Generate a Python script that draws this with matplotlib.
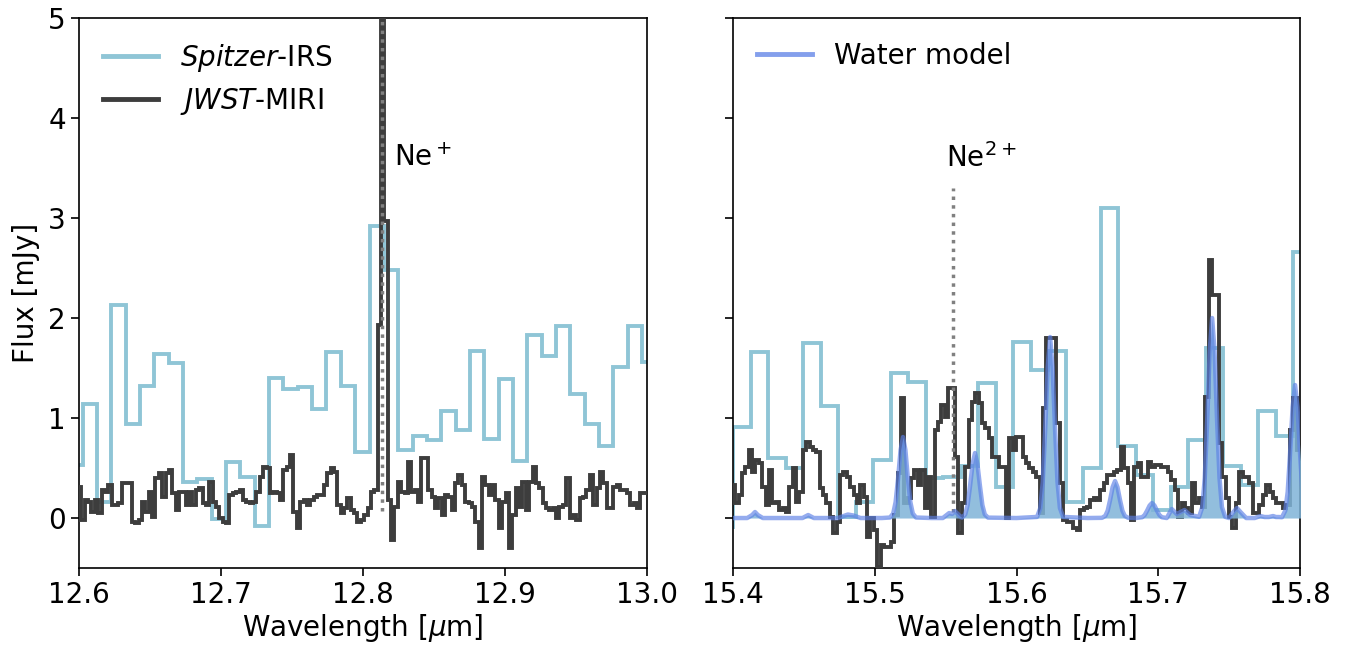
import numpy as np
import matplotlib
matplotlib.use("Agg")
import matplotlib.pyplot as plt
from matplotlib.lines import Line2D

# ---------------- data ----------------
# Spitzer-IRS (bin edges and fluxes, mJy)
spitzer_left_edges = np.linspace(12.5925, 13.0066, 42)
spitzer_left_flux = [0.53, 1.14, 0.16, 2.13, 0.94, 1.32, 1.64, 1.55, 0.36, 0.39,
                     -0.01, 0.56, 0.41, -0.08, 1.40, 1.29, 1.31, 1.09, 1.66, 1.32,
                     0.66, 2.92, 2.48, 0.68, 0.82, 0.78, 1.07, 0.88, 1.67, 0.79,
                     1.39, 0.57, 1.83, 1.62, 1.92, 1.24, 0.94, 0.72, 1.51, 1.92,
                     1.56]

spitzer_right_edges = np.linspace(15.3879, 15.8074, 35)
spitzer_right_flux = [-0.09, 0.91, 1.66, 0.60, 0.50, 1.75, 1.12, 0.01, 0.16, 0.58,
                      1.45, 1.36, 0.40, 0.41, 0.52, 1.35, 0.31, 1.76, 1.48, 1.67,
                      0.16, 0.50, 3.10, 0.72, 0.43, 0.08, 0.31, 0.78, 1.70, 0.52,
                      0.33, 1.07, 0.82, 2.66]

# JWST-MIRI (bin edges and fluxes, mJy)
jwst_left_edges = np.linspace(12.5993, 13.0, 170)
jwst_left_flux = [
    0.31, -0.02, 0.18, 0.16, 0.06, 0.18, 0.05, 0.28, 0.26, 0.33,
    0.13, 0.13, 0.15, 0.35, 0.35, 0.35, -0.04, -0.05, -0.02, 0.16,
    0.06, 0.26, 0.01, 0.40, 0.45, 0.21, 0.45, 0.48, 0.25, 0.08,
    0.26, 0.26, 0.13, 0.26, 0.13, 0.28, 0.30, 0.15, 0.13, 0.36,
    0.16, 0.11, 0.00, -0.04, -0.05, 0.23, 0.25, 0.26, 0.28, 0.18,
    0.16, 0.15, 0.16, 0.26, 0.41, 0.51, 0.50, 0.25,
    0.26, 0.25, 0.18, 0.48, 0.51, 0.63, 0.06, -0.10, 0.16, 0.18,
    0.13, 0.18, 0.21, 0.23, 0.23, 0.33, 0.45, 0.50, 0.46,
    0.13, 0.05, 0.10, 0.20, 0.08, 0.05, -0.04, -0.02, 0.03, 0.10,
    0.26, 0.28, 1.93, 8.0, 2.97, 0.18, -0.22, 0.11, 0.36, 0.26,
    0.25, 0.56, 0.26, 0.28, 0.16, 0.60, 0.60, 0.28, 0.21, 0.10,
    0.20, 0.03, 0.23, 0.21, 0.08,
    0.35, 0.43, 0.33, 0.16, 0.15, 0.11, -0.04, -0.30, 0.41, 0.33,
    0.23, 0.33, 0.18, -0.10, 0.16, 0.25, -0.30, 0.03, 0.30, 0.11,
    0.36, 0.08, 0.36, 0.51, 0.35, 0.30, 0.15, 0.10, 0.08, 0.10,
    0.00, 0.11, 0.13, 0.40, 0.00, 0.03, -0.02, 0.20, 0.21, 0.28,
    0.43, 0.13, 0.30, 0.46, 0.35, 0.10, 0.10, 0.31, 0.33, 0.28,
    0.28, 0.25, 0.13, 0.15, 0.10, 0.25, 0.25]

jwst_right_edges = np.linspace(15.3991, 15.8, 169)
jwst_right_flux = [
    0.33, 0.15, 0.23, 0.45, 0.51, 0.68, 0.46, 0.58, 0.55, 0.31,
    0.13, 0.48, 0.15, 0.16, 0.08, 0.10, 0.06, 0.31, 0.50, 0.16,
    0.26, 0.68, 0.76, 0.71, 0.68, 0.66, 0.30, 0.23, 0.15, 0.01,
    -0.15, -0.04, 0.43, 0.46, 0.41, 0.31, 0.23, 0.15, 0.33, 0.21,
    -0.19, 0.00, -0.12, -0.49,
    -0.27, -0.29, -0.29, -0.24, 0.03, 0.45, 1.20, 0.15, 0.20, 0.40,
    0.48, 0.33, 0.48, 0.10, 0.41, 0.01, 0.88, 0.96, 1.13, 1.01,
    1.30, 1.30, 0.61, -0.15, 0.15, 0.51, 0.98, 1.16, 1.25, 1.15,
    0.95, 0.90, 0.80, 0.61, 0.61, 0.51, 0.51, 0.00, 0.80, 0.68,
    0.81, 0.81,
    0.61, 0.55, 0.50, 0.46, 0.41, 0.05, 1.10, 1.80, 1.80, 1.80,
    0.95, 0.35, -0.02, -0.04, -0.04, -0.10, -0.12, 0.08, 0.10, 0.11,
    0.18, 0.20, 0.18, 0.28, 0.35, 0.43, 0.43, 0.46, 0.48, 0.71,
    0.50, 0.35, -0.02, 0.51, 0.55, 0.41, 0.41, 0.56, 0.51, 0.53,
    0.53, 0.51, 0.51, 0.46, 0.38, 0.28, 0.01, 0.15, 0.10, 0.05,
    0.35, 0.15, 0.20, 0.11, 1.21, 2.58, 2.23, 2.23, 0.75, 0.41,
    0.20, 0.01, -0.10, 0.15, 0.46, 0.41, 0.41, 0.35, 0.05, 0.05,
    0.13, 0.23, 0.33, 0.26, 0.20, 0.15, 0.15, 0.10, 0.13, 0.88,
    1.20, 0.68]

# Water slab model
model_wl = [15.398, 15.410, 15.4135, 15.4155, 15.4175, 15.421,
            15.449, 15.453, 15.457,
            15.474, 15.478, 15.481, 15.485, 15.490, 15.505,
            15.5107, 15.5130, 15.5147, 15.5164, 15.5182, 15.5199, 15.5216,
            15.5234, 15.5251, 15.5268, 15.5291,
            15.540, 15.548, 15.5525, 15.5545, 15.5565, 15.560,
            15.5615, 15.5638, 15.5655, 15.5672, 15.5690, 15.5707, 15.5724,
            15.5742, 15.5759, 15.5776, 15.5799, 15.600,
            15.6145, 15.6168, 15.6185, 15.6202, 15.6220, 15.6237, 15.6254,
            15.6272, 15.6289, 15.6306, 15.6329, 15.650,
            15.6603, 15.6626, 15.6643, 15.6660, 15.6678, 15.6695, 15.6712,
            15.6730, 15.6747, 15.6764, 15.6787, 15.684,
            15.6887, 15.6904, 15.6921, 15.6939, 15.6956, 15.6973, 15.6991,
            15.7008, 15.7025,
            15.706, 15.7095, 15.713, 15.7185, 15.7225,
            15.7288, 15.7311, 15.7328, 15.7345, 15.7363, 15.7380, 15.7397,
            15.7415, 15.7432, 15.7449, 15.7472,
            15.750, 15.753, 15.7555, 15.758, 15.762,
            15.768, 15.772, 15.775, 15.778, 15.781, 15.783, 15.785,
            15.7873, 15.7896, 15.7913, 15.7930, 15.7948, 15.7965, 15.7982,
            15.8000, 15.8017]
model_flux = [0.0, 0.0, 0.03, 0.06, 0.03, 0.0,
              0.0, 0.03, 0.0,
              0.0, 0.02, 0.035, 0.025, 0.0, 0.0,
              0.005, 0.045, 0.16, 0.39, 0.68, 0.81, 0.68,
              0.39, 0.16, 0.045, 0.005,
              0.0, 0.0, 0.05, 0.04, 0.07, 0.02,
              0.004, 0.036, 0.13, 0.32, 0.54, 0.65, 0.54,
              0.32, 0.13, 0.036, 0.004, 0.0,
              0.011, 0.10, 0.36, 0.88, 1.51, 1.81, 1.51,
              0.88, 0.36, 0.10, 0.011, 0.0,
              0.002, 0.021, 0.073, 0.18, 0.31, 0.37, 0.31,
              0.18, 0.073, 0.021, 0.002, 0.0,
              0.008, 0.03, 0.073, 0.125, 0.15, 0.125, 0.073,
              0.03, 0.008,
              0.0, 0.09, 0.04, 0.08, 0.03,
              0.012, 0.11, 0.40, 0.97, 1.67, 2.0, 1.67,
              0.97, 0.40, 0.11, 0.012,
              0.0, 0.06, 0.10, 0.06, 0.0,
              0.0, 0.02, 0.01, 0.01, 0.02, 0.01, 0.01,
              0.008, 0.074, 0.26, 0.65, 1.11, 1.33, 1.11,
              0.65, 0.26]

ne_ii_wl = 12.8135
ne_iii_wl = 15.555

left_xticks = [12.6, 12.7, 12.8, 12.9, 13.0]
right_xticks = [15.4, 15.5, 15.6, 15.7, 15.8]
yticks = [0, 1, 2, 3, 4, 5]

# ---------------- style ----------------
spitzer_color = '#8fc5d6'
jwst_color = '#3d3d3d'
model_line_color = '#5b7fe6'
model_fill_color = '#7fb3d8'
fs = 20

plt.rcParams['font.family'] = ['DejaVu Sans']
plt.rcParams['mathtext.fontset'] = 'dejavusans'

fig = plt.figure(figsize=(13.59, 6.46), dpi=100)
axL = fig.add_axes([0.0581, 0.1207, 0.4180, 0.8514])
axR = fig.add_axes([0.5394, 0.1207, 0.4172, 0.8514])

for ax in (axL, axR):
    ax.set_ylim(-0.5, 5)
    ax.set_yticks(yticks)
    ax.tick_params(axis='both', labelsize=fs, length=6, width=1.2, direction='out')
    for sp in ax.spines.values():
        sp.set_linewidth(1.2)

# Left panel
axL.stairs(spitzer_left_flux, spitzer_left_edges, baseline=None,
           color=spitzer_color, lw=2.8, zorder=2)
axL.stairs(jwst_left_flux, jwst_left_edges, baseline=None,
           color=jwst_color, lw=2.8, zorder=3)
axL.vlines(ne_ii_wl, 0.07, 5.2, colors='gray', linestyles=(0, (1, 1.5)),
           lw=2.5, zorder=4)
axL.text(ne_ii_wl + 0.0085, 3.6, r'Ne$^+$', fontsize=fs, va='center', ha='left')
axL.set_xlim(12.6, 13.0)
axL.set_xticks(left_xticks)
axL.set_xticklabels(['12.6', '12.7', '12.8', '12.9', '13.0'])
axL.set_xlabel(r'Wavelength [$\mu$m]', fontsize=fs, labelpad=2)
axL.set_ylabel('Flux [mJy]', fontsize=fs, labelpad=6)

hL = [Line2D([], [], color=spitzer_color, lw=3.5),
      Line2D([], [], color=jwst_color, lw=3.5)]
axL.legend(hL, [r'$\it{Spitzer}$-IRS', r'$\it{JWST}$-MIRI'], loc='upper left',
           frameon=False, fontsize=fs, handlelength=2.0, borderaxespad=0.45,
           labelspacing=0.45)

# Right panel
axR.stairs(spitzer_right_flux, spitzer_right_edges, baseline=None,
           color=spitzer_color, lw=2.8, zorder=2)
axR.stairs(jwst_right_flux, jwst_right_edges, baseline=None,
           color=jwst_color, lw=2.8, zorder=3)
axR.fill_between(model_wl, 0, model_flux, color=model_fill_color, alpha=0.85,
                 lw=0, zorder=4)
axR.plot(model_wl, model_flux, color=model_line_color, lw=3.2, alpha=0.65,
         zorder=5)
axR.vlines(ne_iii_wl, 0.06, 3.3, colors='gray', linestyles=(0, (1, 1.5)),
           lw=2.5, zorder=4)
axR.text(ne_iii_wl - 0.005, 3.6, r'Ne$^{2+}$', fontsize=fs, va='center', ha='left')
axR.set_xlim(15.4, 15.8)
axR.set_xticks(right_xticks)
axR.set_xticklabels(['15.4', '15.5', '15.6', '15.7', '15.8'])
axR.set_yticklabels([])
axR.set_xlabel(r'Wavelength [$\mu$m]', fontsize=fs, labelpad=2)
hR = [Line2D([], [], color=model_line_color, lw=3.5, alpha=0.75)]
axR.legend(hR, ['Water model'], loc='upper left', frameon=False, fontsize=fs,
           handlelength=2.0, borderaxespad=0.45)

fig.savefig('out.png', dpi=100)
